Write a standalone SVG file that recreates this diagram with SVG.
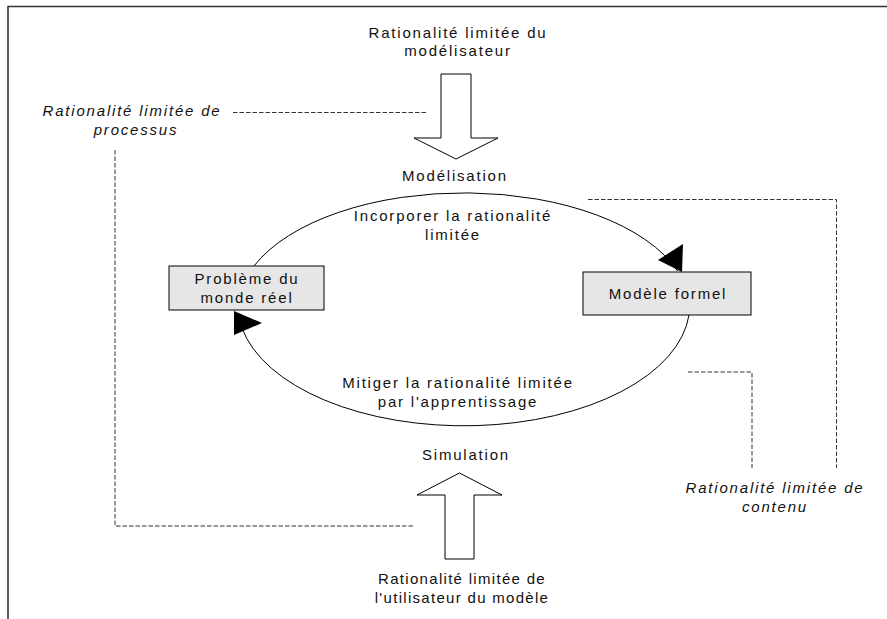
<svg xmlns="http://www.w3.org/2000/svg" width="887" height="619" viewBox="0 0 887 619">
  <style>
    .t { font-family: "Liberation Sans", Arial, sans-serif; font-size: 15px; fill: #111; text-anchor: middle; letter-spacing: 1.8px; }
    .n { letter-spacing: 1.3px; }
    .i { font-style: italic; }
    .box { fill: #e6e6e6; stroke: #000; stroke-width: 1; }
    .big { fill: #fff; stroke: #000; stroke-width: 1; }
    .dash { fill: none; stroke: #333; stroke-width: 1; stroke-dasharray: 4.5 2; }
    .arc { fill: none; stroke: #000; stroke-width: 1; }
    .head { fill: #000; stroke: none; }
  </style>
  <rect width="887" height="619" fill="#fff"/>
  <g id="frame">
    <path d="M8 619 V6.5 H887" fill="none" stroke="#333" stroke-width="1.6"/>
  </g>
  <g id="connectors">
    <path class="arc" d="M254 266 A226 116 0 0 1 677.6 271"/>
    <polygon class="head" points="658,260 683,244 682,272"/>
    <path class="arc" d="M689 315 A226 121 0 0 1 242 328"/>
    <polygon class="head" points="234,311 262,323 234,335"/>
    <path class="dash" d="M233 112.5 H426"/>
    <path class="dash" d="M115 150 V526 H413"/>
    <path class="dash" d="M588 199.5 H836.5 V468"/>
    <path class="dash" d="M688 372 H752 V468"/>
  </g>
  <g id="arrow-modelisation">
    <polygon class="big" points="441,74 471,74 471,138 498,138 456,159 414,138 441,138"/>
  </g>
  <g id="arrow-simulation">
    <polygon class="big" points="445,559 474,559 474,495 502,495 459.5,473 417,495 445,495"/>
  </g>
  <g id="node-probleme">
    <rect class="box" x="169" y="266" width="155" height="44"/>
    <text class="t" x="247" y="284">Problème du</text>
    <text class="t" x="247" y="303">monde réel</text>
  </g>
  <g id="node-modele">
    <rect class="box" x="583" y="272" width="168" height="43"/>
    <text class="t" x="668" y="299">Modèle formel</text>
  </g>
  <g id="labels">
    <text class="t" x="458" y="37.5">Rationalité limitée du</text>
    <text class="t" x="458" y="56">modélisateur</text>
    <text class="t" x="455" y="181">Modélisation</text>
    <text class="t" x="453" y="221">Incorporer la rationalité</text>
    <text class="t" x="453" y="240">limitée</text>
    <text class="t" x="458" y="388">Mitiger la rationalité limitée</text>
    <text class="t" x="458" y="407">par l'apprentissage</text>
    <text class="t" x="466" y="460">Simulation</text>
    <text class="t n" x="462" y="584">Rationalité limitée de</text>
    <text class="t n" x="462" y="603">l'utilisateur du modèle</text>
    <text class="t i" x="132" y="116">Rationalité limitée de</text>
    <text class="t i" x="136" y="135">processus</text>
    <text class="t i" x="775" y="493">Rationalité limitée de</text>
    <text class="t i" x="775" y="512">contenu</text>
  </g>
</svg>
